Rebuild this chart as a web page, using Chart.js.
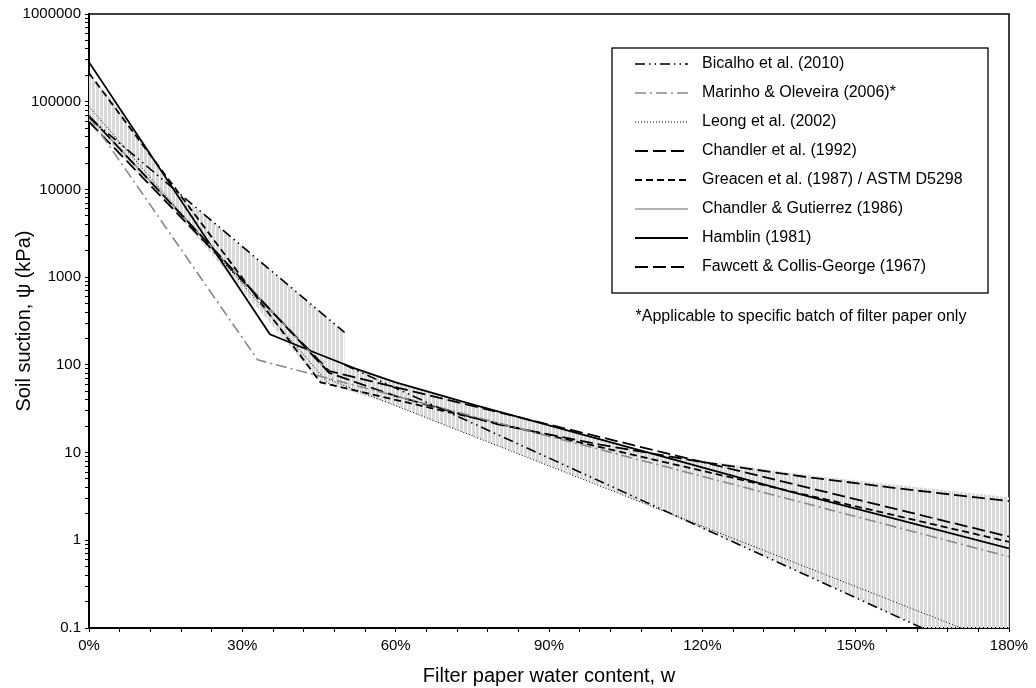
<!DOCTYPE html>
<html>
<head>
<meta charset="utf-8">
<script src="https://cdn.jsdelivr.net/npm/chart.js@4.4.1/dist/chart.umd.min.js"></script>
<style>
  html, body { margin: 0; padding: 0; background: #fff; }
  #wrap { width: 1036px; height: 688px; }
</style>
</head>
<body>
<div id="wrap"><canvas id="plot"></canvas></div>
<script>
// Contenido de humedad del papel filtro w (%) y succion psi (kPa)
const bicalhoW = [0, 50, 50, 50, 163];
const bicalhoPsi = [66000, 234, null, 100, 0.1];

const marinhoW = [0, 33, 180];
const marinhoPsi = [67600, 114, 0.65];

const leongW = [0, 47, 47, 47, 180];
const leongPsi = [88000, 60, null, 68, 0.061];

const chandler92W = [0, 47, 60, 80, 100, 120, 140, 160, 180];
const chandler92Psi = [69000, 81, 44, 21, 12.3, 7.8, 5.3, 3.8, 2.8];

const greacenW = [0, 45.3, 180];
const greacenPsi = [212000, 63, 0.96];

const chandlerGutW = [0, 47];
const chandlerGutPsi = [69000, 81];

const hamblinW = [0, 35.4, 45, 52, 60, 75, 90, 110, 137, 180];
const hamblinPsi = [282000, 223, 132, 91, 63, 35.5, 20.4, 9.8, 3.6, 0.81];

const fawcettW = [0, 47, 180];
const fawcettPsi = [59000, 85, 1.1];

// Banda sombreada (rango de las curvas)
const bandaSupW = [0, 5, 17, 50, 50, 60, 80, 110, 140, 180];
const bandaSupPsi = [200000, 100000, 9500, 234, 100, 63, 29.5, 9.8, 5.6, 3.1];
const bandaInfW = [0, 17, 45.3, 47, 60, 80, 100, 110, 140, 163, 180];
const bandaInfPsi = [60000, 5500, 63, 60, 34, 11.9, 4.2, 2.45, 0.41, 0.1, 0.09];

const xTickLabels = ['0%', '30%', '60%', '90%', '120%', '150%', '180%'];
const yTickLabels = ['0.1', '1', '10', '100', '1000', '10000', '100000', '1000000'];

const nota = '*Applicable to specific batch of filter paper only';

const fuente = '"Liberation Sans", Arial, sans-serif';
Chart.defaults.font.family = fuente;
Chart.defaults.color = '#000';

let puntos = (w, psi) => w.map((x, i) => ({ x: x, y: psi[i] }));

let rayado = () => {
  let c = document.createElement('canvas');
  c.width = 4;
  c.height = 4;
  let g = c.getContext('2d');
  g.fillStyle = '#d9d9d9';
  g.fillRect(0, 0, 3, 4);
  return g.createPattern(c, 'repeat');
};

let serie = (label, w, psi, color, width, dash) => ({
  label: label,
  data: puntos(w, psi),
  borderColor: color,
  borderWidth: width,
  borderDash: dash,
  pointRadius: 0,
  fill: false,
  tension: 0
});

const datasets = [
  serie('Bicalho et al. (2010)', bicalhoW, bicalhoPsi, '#000', 1.6, [10, 4, 1.5, 4, 1.5, 4]),
  serie('Marinho & Oleveira (2006)*', marinhoW, marinhoPsi, '#8a8a8a', 1.6, [11, 4, 2, 4]),
  serie('Leong et al. (2002)', leongW, leongPsi, '#000', 1, [1, 2]),
  serie('Chandler et al. (1992)', chandler92W, chandler92Psi, '#000', 1.8, [13, 5]),
  serie('Greacen et al. (1987) / ASTM D5298', greacenW, greacenPsi, '#000', 1.8, [7, 4]),
  serie('Chandler & Gutierrez (1986)', chandlerGutW, chandlerGutPsi, '#9a9a9a', 1.6, []),
  serie('Hamblin (1981)', hamblinW, hamblinPsi, '#000', 1.8, []),
  serie('Fawcett & Collis-George (1967)', fawcettW, fawcettPsi, '#000', 1.8, [13, 5]),
  {
    label: 'banda sup',
    data: puntos(bandaSupW, bandaSupPsi),
    borderWidth: 0,
    borderColor: 'rgba(0,0,0,0)',
    pointRadius: 0,
    backgroundColor: rayado(),
    fill: '+1'
  },
  {
    label: 'banda inf',
    data: puntos(bandaInfW, bandaInfPsi),
    borderWidth: 0,
    borderColor: 'rgba(0,0,0,0)',
    pointRadius: 0,
    fill: false
  }
];

const numSeries = 8;

// marco superior y derecho
const marco = {
  id: 'marco',
  beforeDatasetsDraw(chart) {
    const { ctx, chartArea: a } = chart;
    ctx.save();
    ctx.strokeStyle = '#000';
    ctx.lineWidth = 1.5;
    ctx.beginPath();
    ctx.moveTo(a.left, a.top);
    ctx.lineTo(a.right, a.top);
    ctx.lineTo(a.right, a.bottom);
    ctx.stroke();
    ctx.restore();
  }
};

// leyenda dibujada a mano dentro del area
const leyenda = {
  id: 'leyenda',
  afterDraw(chart) {
    const ctx = chart.ctx;
    ctx.save();
    ctx.fillStyle = '#fff';
    ctx.fillRect(612, 48, 376, 245);
    ctx.strokeStyle = '#000';
    ctx.lineWidth = 1.3;
    ctx.strokeRect(612, 48, 376, 245);
    ctx.font = '16px ' + fuente;
    ctx.textBaseline = 'middle';
    chart.data.datasets.slice(0, numSeries).forEach((ds, i) => {
      let y = 64 + i * 29;
      ctx.strokeStyle = ds.borderColor;
      ctx.lineWidth = ds.borderWidth;
      ctx.setLineDash(ds.borderDash);
      ctx.beginPath();
      ctx.moveTo(635, y);
      ctx.lineTo(688, y);
      ctx.stroke();
      ctx.setLineDash([]);
      ctx.fillStyle = '#000';
      ctx.fillText(ds.label, 702, y);
    });
    ctx.textAlign = 'center';
    ctx.fillText(nota, 801, 317);
    ctx.restore();
  }
};

let esPotencia = v => Math.abs(Math.log10(v) - Math.round(Math.log10(v))) < 1e-9;

new Chart(document.getElementById('plot'), {
  type: 'line',
  data: { datasets: datasets },
  options: {
    responsive: true,
    maintainAspectRatio: false,
    animation: false,
    layout: { padding: { top: 14, right: 27, left: 0, bottom: 0 } },
    plugins: {
      legend: { display: false },
      tooltip: { enabled: false }
    },
    scales: {
      x: {
        type: 'linear',
        min: 0,
        max: 180,
        afterFit: s => { s.height = 60; },
        ticks: {
          stepSize: 6,
          autoSkip: false,
          maxRotation: 0,
          padding: 5,
          font: { size: 15 },
          callback: v => (v % 30 === 0 ? xTickLabels[v / 30] : '')
        },
        grid: { drawOnChartArea: false, drawTicks: true, tickLength: 4, color: '#000' },
        border: { display: true, color: '#000', width: 2 },
        title: {
          display: true,
          text: 'Filter paper water content, w',
          font: { size: 20 },
          color: '#000',
          padding: { top: 0, bottom: 0 }
        }
      },
      y: {
        type: 'logarithmic',
        min: 0.1,
        max: 1000000,
        afterFit: s => { s.width = 89; },
        afterBuildTicks: s => {
          let t = [];
          for (let k = -1; k <= 5; k++) {
            for (let m = 1; m <= 9; m++) {
              t.push({ value: m * Math.pow(10, k) });
            }
          }
          t.push({ value: 1000000 });
          s.ticks = t;
        },
        ticks: {
          autoSkip: false,
          padding: 4,
          font: { size: 15 },
          callback: v => (esPotencia(v) ? yTickLabels[Math.round(Math.log10(v)) + 1] : '')
        },
        grid: { drawOnChartArea: false, drawTicks: true, tickLength: 4, color: '#000' },
        border: { display: true, color: '#000', width: 2 },
        title: {
          display: true,
          text: 'Soil suction, ψ (kPa)',
          font: { size: 20 },
          color: '#000',
          padding: { top: 12, bottom: 0 }
        }
      }
    }
  },
  plugins: [marco, leyenda]
});
</script>
</body>
</html>
